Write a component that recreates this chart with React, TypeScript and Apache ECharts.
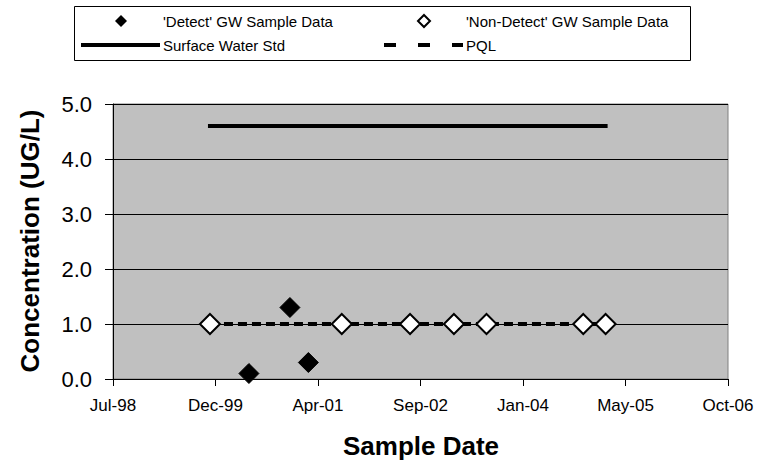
import React, { useEffect, useRef } from "react";
import * as echarts from "echarts";

// ---- Data ----
const DETECT_DATES = ["2000-05-17", "2000-12-03", "2001-03-03"];
const DETECT_VALUES = [0.1, 1.3, 0.3];

const NONDETECT_DATES = [
  "1999-11-09",
  "2001-08-13",
  "2002-07-12",
  "2003-02-11",
  "2003-07-20",
  "2004-11-03",
  "2005-02-20",
];
const NONDETECT_VALUES = [1.0, 1.0, 1.0, 1.0, 1.0, 1.0, 1.0];

const SURFACE_WATER_STD = 4.6;
const SURFACE_WATER_DATES = ["1999-11-09", "2005-02-20"];

const PQL_VALUE = 1.0;
const PQL_DATES = [
  "1999-11-09",
  "2000-05-17",
  "2000-12-03",
  "2001-03-03",
  "2001-08-13",
  "2002-07-12",
  "2003-02-11",
  "2003-07-20",
  "2004-11-03",
  "2005-02-20",
];

const X_MIN_SERIAL = 36000; // Jul-98
const X_MAX_SERIAL = 39000; // Oct-06
const X_STEP_DAYS = 500;
const Y_TICKS = [0, 1, 2, 3, 4, 5];

const MONTHS = ["Jan", "Feb", "Mar", "Apr", "May", "Jun", "Jul", "Aug", "Sep", "Oct", "Nov", "Dec"];
const EPOCH = Date.UTC(1899, 11, 30);

function toSerial(d: string): number {
  const [y, m, day] = d.split("-").map(Number);
  return Math.round((Date.UTC(y, m - 1, day) - EPOCH) / 86400000);
}
function fmtSerial(v: number): string {
  const dt = new Date(EPOCH + v * 86400000);
  return `${MONTHS[dt.getUTCMonth()]}-${String(dt.getUTCFullYear() % 100).padStart(2, "0")}`;
}

const FONT = "'Liberation Sans', Arial, sans-serif";

export default function App() {
  const ref = useRef<HTMLDivElement>(null);
  useEffect(() => {
    if (!ref.current) return;
    const chart = echarts.init(ref.current, null, { renderer: "svg" });
    const diamond = (cx: number, cy: number, r: number) => [
      [cx, cy - r],
      [cx + r, cy],
      [cx, cy + r],
      [cx - r, cy],
    ];
    chart.setOption({
      animation: false,
      backgroundColor: "#fff",
      grid: {
        left: 113,
        top: 104,
        width: 615,
        height: 275,
        show: true,
        backgroundColor: "#C0C0C0",
        borderColor: "#808080",
        borderWidth: 1,
      },
      xAxis: {
        type: "value",
        min: X_MIN_SERIAL,
        max: X_MAX_SERIAL,
        interval: X_STEP_DAYS,
        axisLine: { show: true, onZero: false, lineStyle: { color: "#000", width: 1 } },
        axisTick: { show: true, inside: false, length: 7, lineStyle: { color: "#000" } },
        splitLine: { show: false },
        axisLabel: {
          formatter: (v: number) => fmtSerial(v),
          color: "#000",
          fontFamily: FONT,
          fontSize: 17,
          margin: 18,
        },
      },
      yAxis: {
        type: "value",
        min: Y_TICKS[0],
        max: Y_TICKS[Y_TICKS.length - 1],
        interval: 1,
        axisLine: { show: true, lineStyle: { color: "#000", width: 1 } },
        axisTick: { show: true, inside: false, length: 8, lineStyle: { color: "#000" } },
        splitLine: { show: true, lineStyle: { color: "#000", width: 1 } },
        axisLabel: {
          formatter: (v: number) => v.toFixed(1),
          color: "#000",
          fontFamily: FONT,
          fontSize: 22,
          margin: 21,
        },
      },
      series: [
        {
          name: "PQL",
          type: "line",
          data: PQL_DATES.map((d) => [toSerial(d), PQL_VALUE]),
          symbol: "none",
          lineStyle: { color: "#000", width: 4, type: [9, 5] },
          z: 2,
        },
        {
          name: "Surface Water Std",
          type: "line",
          data: SURFACE_WATER_DATES.map((d) => [toSerial(d), SURFACE_WATER_STD]),
          symbol: "none",
          lineStyle: { color: "#000", width: 4, cap: "square" },
          z: 2,
        },
        {
          name: "'Detect' GW Sample Data",
          type: "scatter",
          data: DETECT_DATES.map((d, i) => [toSerial(d), DETECT_VALUES[i]]),
          symbol: "diamond",
          symbolSize: 20,
          itemStyle: { color: "#000", borderColor: "#000", borderWidth: 1, opacity: 1 },
          z: 3,
        },
        {
          name: "'Non-Detect' GW Sample Data",
          type: "scatter",
          data: NONDETECT_DATES.map((d, i) => [toSerial(d), NONDETECT_VALUES[i]]),
          symbol: "diamond",
          symbolSize: 20,
          itemStyle: { color: "#fff", borderColor: "#000", borderWidth: 2, opacity: 1 },
          z: 4,
        },
      ],
      graphic: [
        {
          type: "rect",
          shape: { x: 74.5, y: 6.5, width: 616, height: 54 },
          style: { fill: "#fff", stroke: "#000", lineWidth: 1 },
          z: 10,
        },
        {
          type: "polygon",
          shape: { points: diamond(121, 21, 6) },
          style: { fill: "#000" },
          z: 11,
        },
        {
          type: "text",
          x: 163,
          y: 21,
          style: { text: "'Detect' GW Sample Data", fill: "#000", font: `15px ${FONT}`, verticalAlign: "middle" },
          z: 11,
        },
        {
          type: "polygon",
          shape: { points: diamond(424, 21, 6) },
          style: { fill: "#fff", stroke: "#000", lineWidth: 2 },
          z: 11,
        },
        {
          type: "text",
          x: 466,
          y: 21,
          style: { text: "'Non-Detect' GW Sample Data", fill: "#000", font: `15px ${FONT}`, verticalAlign: "middle" },
          z: 11,
        },
        {
          type: "line",
          shape: { x1: 81, y1: 45, x2: 160, y2: 45 },
          style: { stroke: "#000", lineWidth: 4 },
          z: 11,
        },
        {
          type: "text",
          x: 163,
          y: 45,
          style: { text: "Surface Water Std", fill: "#000", font: `15px ${FONT}`, verticalAlign: "middle" },
          z: 11,
        },
        {
          type: "line",
          shape: { x1: 384, y1: 45, x2: 463, y2: 45 },
          style: { stroke: "#000", lineWidth: 4, lineDash: [12, 22] },
          z: 11,
        },
        {
          type: "text",
          x: 466,
          y: 45,
          style: { text: "PQL", fill: "#000", font: `15px ${FONT}`, verticalAlign: "middle" },
          z: 11,
        },
        {
          type: "text",
          x: 30,
          y: 241,
          rotation: Math.PI / 2,
          style: {
            text: "Concentration (UG/L)",
            fill: "#000",
            font: `bold 26px ${FONT}`,
            align: "center",
            verticalAlign: "middle",
          },
        },
        {
          type: "text",
          x: 421,
          y: 446,
          style: {
            text: "Sample Date",
            fill: "#000",
            font: `bold 26px ${FONT}`,
            align: "center",
            verticalAlign: "middle",
          },
        },
      ],
    });
    return () => chart.dispose();
  }, []);
  return (
    <div
      ref={ref}
      style={{ position: "fixed", left: 0, top: 0, width: 768, height: 463, background: "#fff" }}
    />
  );
}
